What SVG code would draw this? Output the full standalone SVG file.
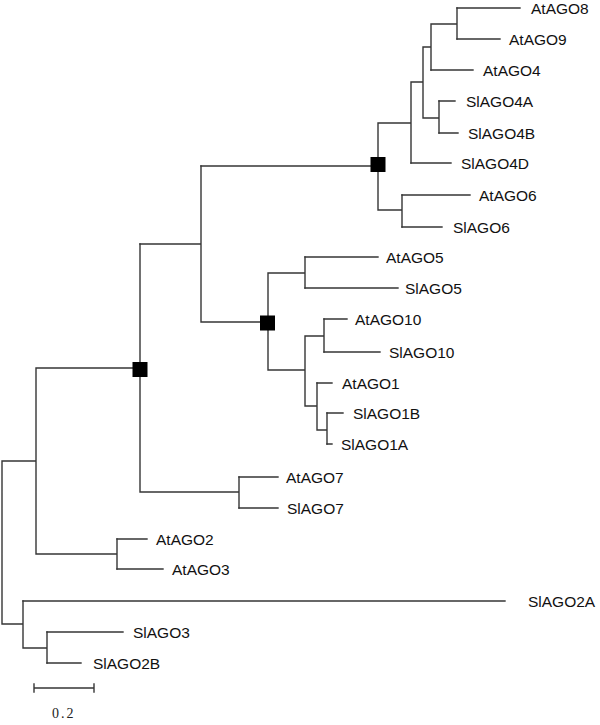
<svg xmlns="http://www.w3.org/2000/svg" width="600" height="725" viewBox="0 0 600 725">
<style>
.br{fill:none;stroke:#363636;stroke-width:1.4;stroke-linecap:square}
.lb{font-family:"Liberation Sans",Arial,sans-serif;font-size:15.5px;fill:#111}
.sq{fill:#000}
.sc{font-family:"Liberation Serif","DejaVu Serif",serif;font-size:14px;fill:#222;letter-spacing:2px}
</style>
<rect width="600" height="725" fill="#fff"/>
<g id="connectors" class="br">
<path d="M457,8V39M457,24H431M431,24V70M431,47H423M439,101V133M439,118H423M423,47V118M423,82H411M411,82V163M411,123H378M402,195V227M402,210H378M378,123V210M378,166H201"/>
<path d="M305,257V288M305,273H268M324,319V352M324,336H305M327,413V444M327,430H317M317,383V430M317,406H305M305,336V406M305,370H268M268,273V370M268,322H201M201,166V322M201,244H140"/>
<path d="M239,477V508M239,492H140M140,244V492M140,368H36M117,539V569M117,554H36M36,368V554M36,461H2M47,632V663M47,648H23M23,601V648M23,624H2M2,461V624"/>
<path d="M457,8H520M457,39H500M431,70H473M439,101H455M439,133H458M411,163H451M402,195H470M402,227H442"/>
<path d="M305,257H378M305,288H398M324,319H347M324,352H380M317,383H332M327,413H343M327,444H332"/>
<path d="M239,477H278M239,508H278M117,539H147M117,569H163M23,601H505M47,632H123M47,663H81"/>
</g>
<g id="bootstrap">
<rect id="sq1" class="sq" x="370.5" y="157" width="15" height="15"/>
<rect id="sq2" class="sq" x="260" y="315.5" width="15" height="15"/>
<rect id="sq3" class="sq" x="132.5" y="362" width="15" height="15"/>
</g>
<g id="leaves" class="lb">
<text id="AtAGO8" x="531" y="13.5">AtAGO8</text>
<text id="AtAGO9" x="509" y="44.5">AtAGO9</text>
<text id="AtAGO4" x="483" y="75.5">AtAGO4</text>
<text id="SlAGO4A" x="466" y="106.5">SlAGO4A</text>
<text id="SlAGO4B" x="468" y="138.5">SlAGO4B</text>
<text id="SlAGO4D" x="461" y="168.5">SlAGO4D</text>
<text id="AtAGO6" x="479" y="200.5">AtAGO6</text>
<text id="SlAGO6" x="453" y="232.5">SlAGO6</text>
<text id="AtAGO5" x="386" y="262.5">AtAGO5</text>
<text id="SlAGO5" x="405" y="293.5">SlAGO5</text>
<text id="AtAGO10" x="355" y="324.5">AtAGO10</text>
<text id="SlAGO10" x="389" y="357.5">SlAGO10</text>
<text id="AtAGO1" x="342" y="388.5">AtAGO1</text>
<text id="SlAGO1B" x="353" y="418.5">SlAGO1B</text>
<text id="SlAGO1A" x="341" y="449.5">SlAGO1A</text>
<text id="AtAGO7" x="286" y="482.5">AtAGO7</text>
<text id="SlAGO7" x="287" y="513.5">SlAGO7</text>
<text id="AtAGO2" x="156" y="544.5">AtAGO2</text>
<text id="AtAGO3" x="172" y="574.5">AtAGO3</text>
<text id="SlAGO2A" x="528" y="606.5">SlAGO2A</text>
<text id="SlAGO3" x="133" y="637.5">SlAGO3</text>
<text id="SlAGO2B" x="93" y="668.5">SlAGO2B</text>
</g>
<g id="scalebar">
<path class="br" d="M34,688H94M34,684V692M94,684V692"/>
<text class="sc" x="52" y="718">0.2</text>
</g>
</svg>
